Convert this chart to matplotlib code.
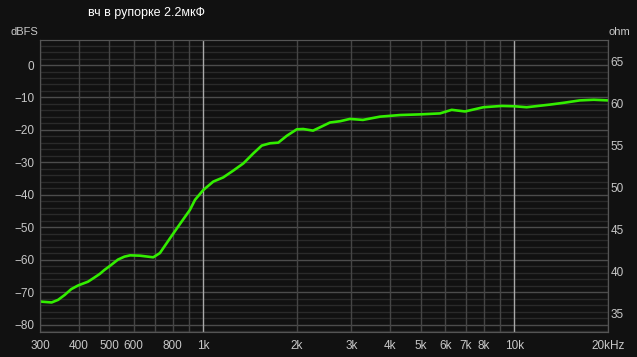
import matplotlib
matplotlib.use("Agg")
import matplotlib.pyplot as plt
from matplotlib.ticker import FixedLocator, NullFormatter

# frequency response (Hz, dBFS)
freq = [300, 307, 327, 343, 360, 378, 397, 428, 449, 467, 483, 504, 534, 560,
        584, 628, 693, 728, 785, 845, 909, 944, 1003, 1080, 1163, 1253, 1349,
        1453, 1546, 1643, 1747, 1860, 2003, 2100, 2259, 2400, 2560, 2760,
        2967, 3266, 3705, 4300, 4977, 5776, 6297, 6951, 7961, 9115, 10000,
        10963, 12993, 14500, 16220, 18000, 20000]
dbfs = [-72.8, -72.9, -73.1, -72.3, -70.8, -69.0, -67.9, -66.7, -65.4, -64.3,
        -63.1, -61.8, -59.9, -59.0, -58.6, -58.7, -59.2, -57.9, -53.3, -48.9,
        -44.6, -41.5, -38.5, -35.9, -34.6, -32.5, -30.3, -27.2, -24.8, -24.1,
        -23.9, -21.8, -19.8, -19.7, -20.2, -19.0, -17.7, -17.3, -16.6, -16.9,
        -15.9, -15.4, -15.2, -14.9, -13.8, -14.3, -13.0, -12.6, -12.7, -13.0,
        -12.2, -11.6, -10.9, -10.7, -10.9]

xticks = [300, 400, 500, 600, 800, 1000, 2000, 3000, 4000, 5000, 6000, 7000,
          8000, 10000, 20000]
xlabels = ["300", "400", "500", "600", "800", "1k", "2k", "3k", "4k", "5k",
           "6k", "7k", "8k", "10k", "20kHz"]
xgrid = [300, 400, 500, 600, 700, 800, 900, 2000, 3000, 4000, 5000, 6000,
         7000, 8000, 9000, 20000]
ohm_ticks = [35, 40, 45, 50, 55, 60, 65]

bg = "#111111"
txt = "#c8c8c8"
plt.rcParams['font.family'] = ['Liberation Sans', 'DejaVu Sans']

fig = plt.figure(figsize=(6.37, 3.57), dpi=100, facecolor=bg)
ax = fig.add_axes([40 / 637, 1 - 332 / 357, 568 / 637, 292 / 357])
ax.set_facecolor(bg)
ax.set_xscale("log")
ax.set_xlim(300, 20000)
ax.set_ylim(-82.2, 7.7)

# grid: every 2 dB, brighter every 10 dB
for v in range(-82, 8, 2):
    if v % 10 == 0:
        ax.axhline(v, color="#4c4c4c", lw=1.0, zorder=1)
    else:
        ax.axhline(v, color="#2a2a2a", lw=1.0, zorder=1)
for f in xgrid:
    ax.axvline(f, color="#454545", lw=1.0, zorder=1)
for f in [1000, 10000]:
    ax.axvline(f, color="#a8a8a8", lw=1.0, zorder=1)

ax.plot(freq, dbfs, color="#33ee00", lw=1.9, zorder=3,
        solid_joinstyle="round", solid_capstyle="round")

ax.xaxis.set_major_locator(FixedLocator(xticks))
ax.xaxis.set_minor_formatter(NullFormatter())
ax.set_xticks(xticks)
ax.set_xticklabels(xlabels)
ax.set_yticks(range(-80, 1, 10))
ax.tick_params(axis="both", which="both", length=0, colors=txt, labelsize=8.5)
ax.tick_params(axis="x", pad=6)
ax.tick_params(axis="y", pad=4)
for s in ax.spines.values():
    s.set_color("#555555")

ax2 = ax.twinx()
ax2.set_ylim(32.74, 67.5)
ax2.set_yticks(ohm_ticks)
ax2.tick_params(axis="y", length=0, colors=txt, labelsize=8.5, pad=2)
for s in ax2.spines.values():
    s.set_color("#555555")

fig.text(146 / 637, 1 - 13 / 357, "вч в рупорке 2.2мкФ", color="white",
         fontsize=9, ha="center", va="center")
fig.text(24 / 637, 1 - 32 / 357, "dBFS", color=txt, fontsize=8,
         ha="center", va="center")
fig.text(619 / 637, 1 - 32 / 357, "ohm", color=txt, fontsize=8,
         ha="center", va="center")

plt.savefig("out.png", facecolor=bg)
